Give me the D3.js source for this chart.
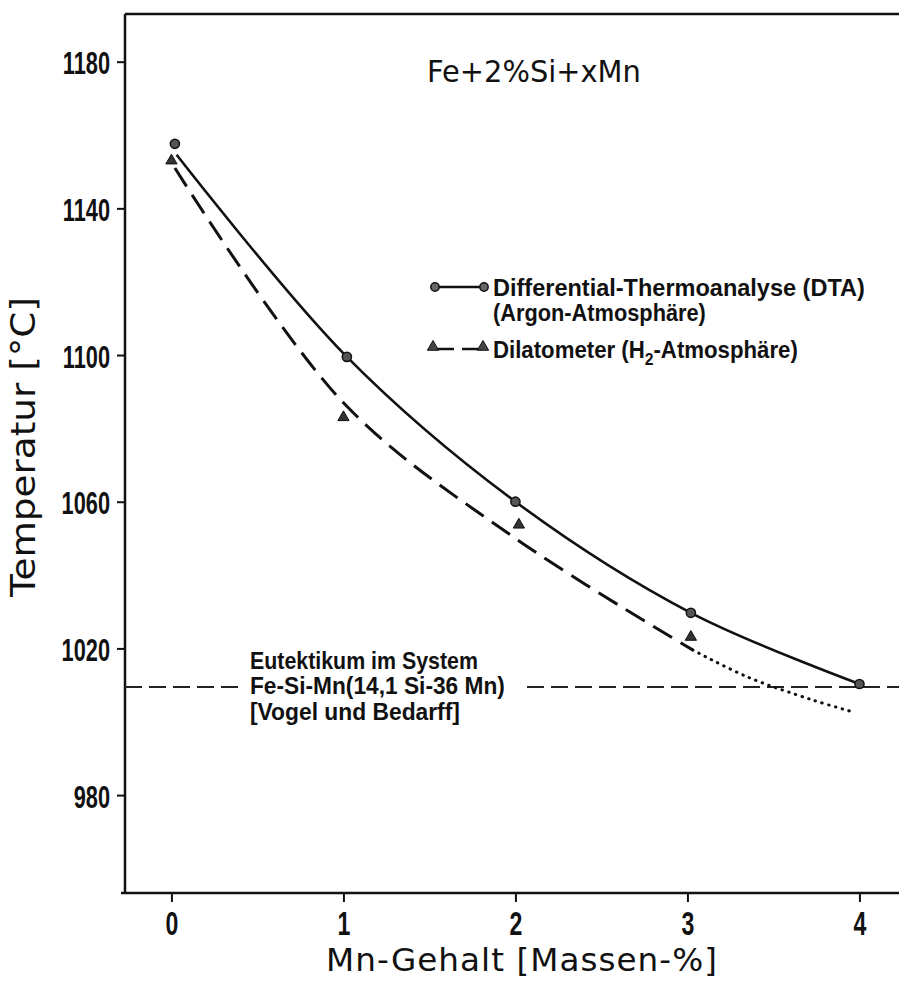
<!DOCTYPE html>
<html>
<head>
<meta charset="utf-8">
<script src="https://cdn.jsdelivr.net/npm/d3@7"></script>
<style>
  body { margin: 0; background: #fff; }
  svg { display: block; }
</style>
</head>
<body>
<div id="chart"></div>
<script>
// ---- data ----
const mnTicks = [0, 1, 2, 3, 4];
const tempTicks = [980, 1020, 1060, 1100, 1140, 1180];

// DTA measurements (circles)
const dtaMn = [0.02, 1.02, 2.0, 3.02, 4.0];
const dtaT = [1157.6, 1099.5, 1060, 1029.7, 1010.3];

// Dilatometer measurements (triangles)
const dilMn = [0.0, 1.0, 2.02, 3.02];
const dilT = [1153, 1083, 1053.7, 1023.1];

// drawn curves
const solidMn = [0.03, 1.02, 2.0, 3.02, 4.0];
const solidT = [1154.6, 1099.5, 1060, 1029.7, 1010.3];
const dashedMn = [0.02, 1.0, 2.0, 3.03];
const dashedT = [1151, 1087, 1050, 1019.6];
const dottedMn = [3.03, 3.35, 3.73, 3.96];
const dottedT = [1019.6, 1012.2, 1005.9, 1002.7];

const eutektikumT = 1009.5;

const W = 899, H = 981;
const condensed = "'Liberation Sans Narrow', 'Liberation Sans', Arial, sans-serif";
const round = "'DejaVu Sans', Verdana, sans-serif";

const x = d3.scaleLinear().domain([-0.27, 4.23]).range([125, 899]);
const y = d3.scaleLinear().domain([953.3, 1193]).range([893, 14]);

const svg = d3.select("#chart").append("svg")
    .attr("width", W)
    .attr("height", H);

// squeeze a text element horizontally so it spans w pixels from its anchor
function fit(t, w) {
    const n = t.node();
    const len = n.getComputedTextLength();
    const x0 = +t.attr("x");
    t.attr("transform", `translate(${x0},0) scale(${w / len},1) translate(${-x0},0)`);
}

// ---- axes ----
const yAxis = svg.append("g")
    .attr("transform", `translate(${x.range()[0]},0)`)
    .call(d3.axisLeft(y).tickValues(tempTicks).tickSize(8).tickSizeOuter(0).tickFormat(d3.format("d")));
const xAxis = svg.append("g")
    .attr("transform", `translate(0,${y.range()[0]})`)
    .call(d3.axisBottom(x).tickValues(mnTicks).tickSize(9).tickSizeOuter(0).tickFormat(d3.format("d")));

[yAxis, xAxis].forEach(a => {
    a.select(".domain").remove();
    a.selectAll(".tick line").attr("stroke", "#111").attr("stroke-width", 2);
    a.selectAll(".tick text")
        .attr("fill", "#111")
        .style("font-family", condensed)
        .style("font-weight", "bold");
});
yAxis.selectAll(".tick text")
    .style("font-size", "32px")
    .attr("x", 0)
    .attr("dy", "0.38em")
    .attr("transform", "translate(-15,0) scale(0.68,1)");
xAxis.selectAll(".tick text")
    .style("font-size", "33px")
    .attr("y", 42)
    .attr("dy", 0)
    .attr("transform", "scale(0.7,1)");

// frame: left, top and bottom lines
const frame = svg.append("g").attr("stroke", "#111").attr("stroke-width", 2.5).attr("fill", "none");
frame.append("line").attr("x1", x.range()[0]).attr("x2", x.range()[0]).attr("y1", y.range()[1]).attr("y2", y.range()[0] + 1);
frame.append("line").attr("x1", x.range()[0]).attr("x2", x.range()[1]).attr("y1", y.range()[1]).attr("y2", y.range()[1]);
frame.append("line").attr("x1", x.range()[0] - 4).attr("x2", x.range()[1]).attr("y1", y.range()[0]).attr("y2", y.range()[0]);

// ---- axis titles ----
const yTitle = svg.append("text")
    .attr("x", 0).attr("y", 0)
    .attr("text-anchor", "middle")
    .style("font-family", round)
    .style("font-size", "33px")
    .attr("fill", "#111")
    .text("Temperatur [°C]");
{
    const len = yTitle.node().getComputedTextLength();
    yTitle.attr("transform", `translate(35,447) rotate(-90) scale(${300 / len},1)`);
}
const xTitle = svg.append("text")
    .attr("x", 326).attr("y", 971)
    .style("font-family", round)
    .style("font-size", "32px")
    .style("letter-spacing", "1px")
    .attr("fill", "#111")
    .text("Mn-Gehalt [Massen-%]");
fit(xTitle, 392);

// ---- title ----
const title = svg.append("text")
    .attr("x", 427).attr("y", 82)
    .style("font-family", round)
    .style("font-size", "30px")
    .attr("fill", "#111")
    .text("Fe+2%Si+xMn");
fit(title, 214);

// ---- eutectic line & label ----
const eut = svg.append("g")
    .attr("stroke", "#222").attr("stroke-width", 2).attr("stroke-dasharray", "17,7");
eut.append("line").attr("x1", x.range()[0]).attr("x2", 240).attr("y1", y(eutektikumT)).attr("y2", y(eutektikumT));
eut.append("line").attr("x1", 527).attr("x2", x.range()[1]).attr("y1", y(eutektikumT)).attr("y2", y(eutektikumT));

const eutLines = [
    ["Eutektikum im System", 228],
    ["Fe-Si-Mn(14,1 Si-36 Mn)", 255],
    ["[Vogel und Bedarff]", 210]
];
eutLines.forEach(([s, w], i) => {
    const t = svg.append("text")
        .attr("x", 250).attr("y", y(eutektikumT) - 18 + i * 25.5)
        .style("font-family", condensed)
        .style("font-size", "24px")
        .style("font-weight", "bold")
        .attr("fill", "#111")
        .text(s);
    fit(t, w);
});

// ---- curves ----
const line = d3.line().x(d => x(d[0])).y(d => y(d[1])).curve(d3.curveCatmullRom.alpha(0.5));
const zip = (a, b) => a.map((v, i) => [v, b[i]]);

svg.append("path")
    .attr("d", line(zip(solidMn, solidT)))
    .attr("fill", "none").attr("stroke", "#111").attr("stroke-width", 2.6);
svg.append("path")
    .attr("d", line(zip(dashedMn, dashedT)))
    .attr("fill", "none").attr("stroke", "#111").attr("stroke-width", 3)
    .attr("stroke-dasharray", "22,10");
svg.append("path")
    .attr("d", line(zip(dottedMn, dottedT)))
    .attr("fill", "none").attr("stroke", "#111").attr("stroke-width", 3)
    .attr("stroke-linecap", "round")
    .attr("stroke-dasharray", "0.5,6.5");

// ---- markers ----
const tri = d3.symbol().type(d3.symbolTriangle).size(55);
svg.append("g").selectAll("circle")
    .data(zip(dtaMn, dtaT))
    .join("circle")
    .attr("cx", d => x(d[0])).attr("cy", d => y(d[1]))
    .attr("r", 4.6)
    .attr("fill", "#555").attr("stroke", "#111").attr("stroke-width", 1.5);
svg.append("g").selectAll("path")
    .data(zip(dilMn, dilT))
    .join("path")
    .attr("d", tri)
    .attr("transform", d => `translate(${x(d[0])},${y(d[1])})`)
    .attr("fill", "#333").attr("stroke", "#111").attr("stroke-width", 1);

// ---- legend ----
const leg = svg.append("g");
leg.append("line").attr("x1", 435).attr("x2", 484).attr("y1", 287).attr("y2", 287)
    .attr("stroke", "#111").attr("stroke-width", 2.4);
[435, 484].forEach(cx => leg.append("circle").attr("cx", cx).attr("cy", 287).attr("r", 4.2)
    .attr("fill", "#666").attr("stroke", "#111").attr("stroke-width", 1.5));
leg.append("line").attr("x1", 435).attr("x2", 481).attr("y1", 349).attr("y2", 349)
    .attr("stroke", "#111").attr("stroke-width", 2.4).attr("stroke-dasharray", "19,8");
[433, 483].forEach(cx => leg.append("path").attr("d", tri)
    .attr("transform", `translate(${cx},347)`).attr("fill", "#444").attr("stroke", "#111"));

const legText = yy => leg.append("text")
    .attr("x", 493).attr("y", yy)
    .style("font-family", condensed)
    .style("font-size", "24px")
    .style("font-weight", "bold")
    .attr("fill", "#111");
fit(legText(296).text("Differential-Thermoanalyse (DTA)"), 372);
fit(legText(321).text("(Argon-Atmosphäre)"), 213);
const dil = legText(358);
dil.append("tspan").text("Dilatometer (H");
dil.append("tspan").attr("dy", 7).style("font-size", "17px").text("2");
dil.append("tspan").attr("dy", -7).text("-Atmosphäre)");
fit(dil, 305);
</script>
</body>
</html>
